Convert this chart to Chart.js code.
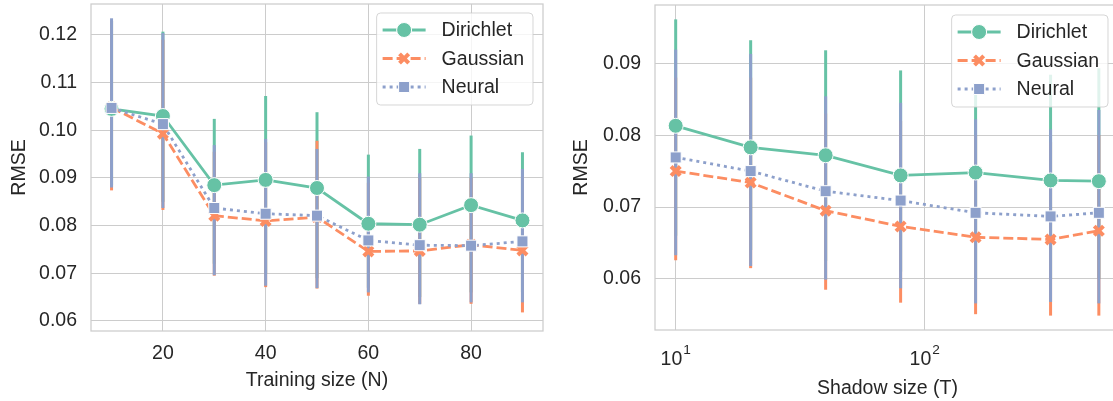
<!DOCTYPE html>
<html>
<head>
<meta charset="utf-8">
<script src="https://cdn.jsdelivr.net/npm/chart.js@4.4.1/dist/chart.umd.min.js"></script>
<style>
  html, body { margin: 0; padding: 0; background: #fff; overflow: hidden; width: 1113px; height: 401px; }
  .panel { position: absolute; top: 0; }
  #left { left: 0; }
  #right { left: 560px; }
</style>
</head>
<body>
<div class="panel" id="left"><canvas id="trainChart" width="555" height="401"></canvas></div>
<div class="panel" id="right"><canvas id="shadowChart" width="560" height="401"></canvas></div>
<script>
// left panel: RMSE vs training size
const trainSizes = [10, 20, 30, 40, 50, 60, 70, 80, 90];
const trainDirichlet = [0.1045, 0.1030, 0.0885, 0.0896, 0.0879, 0.0804, 0.0802, 0.0843, 0.0811];
const trainGaussian  = [0.1048, 0.0993, 0.0821, 0.0810, 0.0818, 0.0746, 0.0747, 0.0760, 0.0748];
const trainNeural    = [0.1047, 0.1013, 0.0837, 0.0825, 0.0821, 0.0769, 0.0759, 0.0758, 0.0767];
const trainDirichletLow  = [0.0885, 0.0850, 0.0720, 0.0700, 0.0690, 0.0670, 0.0650, 0.0660, 0.0660];
const trainDirichletHigh = [0.1230, 0.1207, 0.1024, 0.1072, 0.1038, 0.0949, 0.0961, 0.0989, 0.0954];
const trainGaussianLow   = [0.0874, 0.0833, 0.0695, 0.0671, 0.0668, 0.0653, 0.0636, 0.0636, 0.0618];
const trainGaussianHigh  = [0.1230, 0.1190, 0.0955, 0.0975, 0.0978, 0.0890, 0.0900, 0.0900, 0.0905];
const trainNeuralLow     = [0.0880, 0.0837, 0.0696, 0.0674, 0.0669, 0.0660, 0.0635, 0.0639, 0.0639];
const trainNeuralHigh    = [0.1235, 0.1204, 0.0969, 0.0982, 0.0961, 0.0903, 0.0910, 0.0910, 0.0919];
const trainXTicks = [20, 40, 60, 80];
const trainYTicks = [0.06, 0.07, 0.08, 0.09, 0.10, 0.11, 0.12];

// right panel: RMSE vs shadow size (log x)
const shadowSizes = [10, 20, 40, 80, 160, 320, 500];
const shadowDirichlet = [0.0813, 0.0783, 0.0772, 0.0744, 0.0748, 0.0737, 0.0736];
const shadowGaussian  = [0.0750, 0.0734, 0.0695, 0.0673, 0.0658, 0.0655, 0.0667];
const shadowNeural    = [0.0769, 0.0750, 0.0722, 0.0709, 0.0692, 0.0687, 0.0692];
const shadowDirichletLow  = [0.0660, 0.0640, 0.0625, 0.0610, 0.0600, 0.0600, 0.0600];
const shadowDirichletHigh = [0.0961, 0.0932, 0.0918, 0.0890, 0.0870, 0.0884, 0.0893];
const shadowGaussianLow   = [0.0626, 0.0615, 0.0585, 0.0567, 0.0551, 0.0549, 0.0549];
const shadowGaussianHigh  = [0.0880, 0.0880, 0.0830, 0.0820, 0.0800, 0.0790, 0.0800];
const shadowNeuralLow     = [0.0633, 0.0618, 0.0599, 0.0587, 0.0566, 0.0568, 0.0566];
const shadowNeuralHigh    = [0.0919, 0.0913, 0.0854, 0.0845, 0.0822, 0.0808, 0.0835];
const shadowXTicks = [10, 100];
const shadowYTicks = [0.06, 0.07, 0.08, 0.09];

const seriesNames = ['Dirichlet', 'Gaussian', 'Neural'];
const colors = ['#66c2a5', '#fc8d62', '#8da0cb'];
const dashes = [[], [10, 4], [3, 4]];
const markers = [
  { pointStyle: 'circle', radius: 7.5, borderWidth: 1, fill: true },
  { pointStyle: 'crossRot', radius: 6.5, borderWidth: 4, fill: false },
  { pointStyle: 'rect', radius: 7.8, borderWidth: 1, fill: true }
];
const textColor = '#262626';
const gridColor = '#cccccc';
const fontFamily = '"Liberation Sans", Arial, sans-serif';
const fontSize = 19.5;

Chart.defaults.font.family = fontFamily;
Chart.defaults.font.size = fontSize;
Chart.defaults.color = textColor;

function pts(xs, ys) {
  return xs.map((x, i) => ({ x: x, y: ys[i] }));
}

function lineSet(i, xs, ys) {
  const m = markers[i];
  return {
    label: seriesNames[i],
    data: pts(xs, ys),
    borderColor: colors[i],
    borderWidth: 2.8,
    borderDash: dashes[i],
    pointStyle: m.pointStyle,
    pointRadius: m.radius,
    pointBorderWidth: m.borderWidth,
    pointBackgroundColor: colors[i],
    pointBorderColor: m.fill ? '#ffffff' : colors[i],
    order: 3 - i
  };
}

// frame + vertical error bars, under the lines
const errorBars = {
  id: 'errorBars',
  beforeDatasetsDraw(chart, args, opts) {
    const { ctx, chartArea: a, scales: { x, y } } = chart;
    ctx.save();
    ctx.strokeStyle = gridColor;
    ctx.lineWidth = 1.25;
    ctx.strokeRect(a.left, a.top, a.right - a.left, a.bottom - a.top);
    ctx.beginPath();
    ctx.rect(a.left, a.top, a.right - a.left, a.bottom - a.top);
    ctx.clip();
    ctx.lineWidth = 3;
    opts.bars.forEach((b, i) => {
      ctx.strokeStyle = colors[i];
      b[0].forEach((lo, k) => {
        const px = x.getPixelForValue(opts.xs[k]);
        ctx.beginPath();
        ctx.moveTo(px, y.getPixelForValue(lo));
        ctx.lineTo(px, y.getPixelForValue(b[1][k]));
        ctx.stroke();
      });
    });
    ctx.restore();
  }
};

// matplotlib-like legend box with line + marker handles
const boxLegend = {
  id: 'boxLegend',
  afterDraw(chart, args, opts) {
    const { ctx, chartArea: a } = chart;
    ctx.save();
    ctx.font = fontSize + 'px ' + fontFamily;
    const textW = Math.max(...seriesNames.map(n => ctx.measureText(n).width));
    const w = 6 + 43 + 16 + textW + 9;
    const h = 92;
    const right = a.right - opts.rightOff;
    const left = right - w;
    const top = a.top + opts.topOff;
    ctx.beginPath();
    ctx.roundRect(left, top, w, h, 4);
    ctx.fillStyle = 'rgba(255,255,255,0.8)';
    ctx.fill();
    ctx.strokeStyle = 'rgba(204,204,204,0.8)';
    ctx.lineWidth = 1;
    ctx.stroke();
    seriesNames.forEach((name, i) => {
      const ry = top + 17 + i * 28.5;
      const hx0 = left + 6, hx1 = hx0 + 43, hc = (hx0 + hx1) / 2;
      ctx.strokeStyle = colors[i];
      ctx.lineWidth = 2.8;
      ctx.setLineDash(dashes[i]);
      ctx.beginPath();
      ctx.moveTo(hx0, ry);
      ctx.lineTo(hx1, ry);
      ctx.stroke();
      ctx.setLineDash([]);
      const m = markers[i];
      ctx.fillStyle = colors[i];
      ctx.strokeStyle = m.fill ? '#ffffff' : colors[i];
      ctx.lineWidth = m.borderWidth;
      Chart.helpers.drawPoint(ctx, { pointStyle: m.pointStyle, radius: m.radius, rotation: 0, borderWidth: m.borderWidth }, hc, ry);
      ctx.fillStyle = textColor;
      ctx.textAlign = 'left';
      ctx.textBaseline = 'middle';
      ctx.fillText(name, hx1 + 16, ry + 1);
    });
    ctx.restore();
  }
};

// 10^k tick labels for the log axis
const powerTicks = {
  id: 'powerTicks',
  afterDraw(chart, args, opts) {
    if (!opts.ticks) return;
    const { ctx, chartArea: a, scales: { x } } = chart;
    ctx.save();
    ctx.fillStyle = textColor;
    ctx.textAlign = 'left';
    ctx.textBaseline = 'alphabetic';
    opts.ticks.forEach(v => {
      const exp = String(Math.round(Math.log10(v)));
      const px = x.getPixelForValue(v);
      ctx.font = fontSize + 'px ' + fontFamily;
      const bw = ctx.measureText('10').width;
      ctx.font = (fontSize * 0.7) + 'px ' + fontFamily;
      const ew = ctx.measureText(exp).width;
      const x0 = px - (bw + 1 + ew) / 2;
      ctx.font = fontSize + 'px ' + fontFamily;
      ctx.fillText('10', x0, a.bottom + 35);
      ctx.font = (fontSize * 0.7) + 'px ' + fontFamily;
      ctx.fillText(exp, x0 + bw + 1, a.bottom + 24);
    });
    ctx.restore();
  }
};

function yAxis(min, max, ticks, width, titlePad) {
  return {
    type: 'linear',
    min: min,
    max: max,
    afterBuildTicks: s => { s.ticks = ticks.map(v => ({ value: v })); },
    afterFit: s => { s.width = width; s.paddingTop = 0; s.paddingBottom = 0; },
    grid: { color: gridColor, lineWidth: 1, drawTicks: false },
    border: { display: false },
    ticks: { padding: 14, callback: v => Number(v).toFixed(2) },
    title: { display: true, text: 'RMSE', padding: { top: titlePad, bottom: 0 } }
  };
}

function xFit(h) {
  return s => { s.height = h; s.paddingLeft = 0; s.paddingRight = 0; };
}

new Chart(document.getElementById('trainChart'), {
  type: 'line',
  data: {
    datasets: [
      lineSet(0, trainSizes, trainDirichlet),
      lineSet(1, trainSizes, trainGaussian),
      lineSet(2, trainSizes, trainNeural)
    ]
  },
  options: {
    responsive: false,
    animation: false,
    events: [],
    layout: { autoPadding: false, padding: { top: 4, right: 12, left: 0, bottom: 0 } },
    scales: {
      x: {
        type: 'linear',
        min: 6,
        max: 94,
        afterBuildTicks: s => { s.ticks = trainXTicks.map(v => ({ value: v })); },
        afterFit: xFit(70),
        grid: { color: gridColor, lineWidth: 1, drawTicks: false },
        border: { display: false },
        ticks: { padding: 11, maxRotation: 0 },
        title: { display: true, text: 'Training size (N)', padding: { top: 0, bottom: 9 } }
      },
      y: yAxis(0.0579, 0.1265, trainYTicks, 91, 8)
    },
    plugins: {
      legend: { display: false },
      tooltip: { enabled: false },
      errorBars: {
        xs: trainSizes,
        bars: [
          [trainDirichletLow, trainDirichletHigh],
          [trainGaussianLow, trainGaussianHigh],
          [trainNeuralLow, trainNeuralHigh]
        ]
      },
      boxLegend: { rightOff: 10, topOff: 9 }
    }
  },
  plugins: [errorBars, boxLegend, powerTicks]
});

new Chart(document.getElementById('shadowChart'), {
  type: 'line',
  data: {
    datasets: [
      lineSet(0, shadowSizes, shadowDirichlet),
      lineSet(1, shadowSizes, shadowGaussian),
      lineSet(2, shadowSizes, shadowNeural)
    ]
  },
  options: {
    responsive: false,
    animation: false,
    events: [],
    layout: { autoPadding: false, padding: { top: 5, right: 0, left: 0, bottom: 0 } },
    scales: {
      x: {
        type: 'logarithmic',
        min: 8.26,
        max: 608,
        afterBuildTicks: s => { s.ticks = shadowXTicks.map(v => ({ value: v })); },
        afterFit: xFit(71),
        grid: { color: gridColor, lineWidth: 1, drawTicks: false },
        border: { display: false },
        ticks: { display: false },
        title: { display: true, text: 'Shadow size (T)', padding: { top: 0, bottom: 1 } }
      },
      y: yAxis(0.0529, 0.0981, shadowYTicks, 95, 10)
    },
    plugins: {
      legend: { display: false },
      tooltip: { enabled: false },
      errorBars: {
        xs: shadowSizes,
        bars: [
          [shadowDirichletLow, shadowDirichletHigh],
          [shadowGaussianLow, shadowGaussianHigh],
          [shadowNeuralLow, shadowNeuralHigh]
        ]
      },
      boxLegend: { rightOff: 12, topOff: 10 },
      powerTicks: { ticks: shadowXTicks }
    }
  },
  plugins: [errorBars, boxLegend, powerTicks]
});
</script>
</body>
</html>
